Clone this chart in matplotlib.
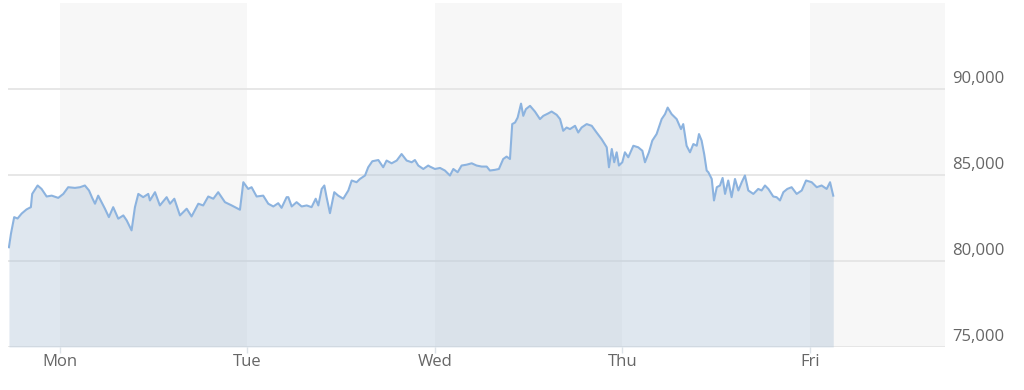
import matplotlib.pyplot as plt
from matplotlib.transforms import ScaledTranslation

# time in days since Monday 00:00, price
days = [
    -0.272, -0.261, -0.244, -0.226, -0.204, -0.178, -0.155, -0.148, -0.119, -0.098,
    -0.071, -0.044, -0.009, 0.018, 0.044, 0.080, 0.107, 0.133, 0.155, 0.172,
    0.187, 0.204, 0.226, 0.240, 0.261, 0.284, 0.311, 0.338, 0.356, 0.382,
    0.400, 0.418, 0.444, 0.471, 0.480, 0.507, 0.533, 0.569, 0.587, 0.610,
    0.640, 0.676, 0.702, 0.738, 0.764, 0.791, 0.818, 0.844, 0.880, 0.916,
    0.960, 0.978, 1.004, 1.022, 1.049, 1.084, 1.111, 1.138, 1.164, 1.182,
    1.209, 1.218, 1.236, 1.262, 1.289, 1.316, 1.342, 1.364, 1.378, 1.396,
    1.410, 1.422, 1.440, 1.463, 1.484, 1.511, 1.538, 1.556, 1.582, 1.600,
    1.627, 1.644, 1.666, 1.698, 1.724, 1.742, 1.769, 1.796, 1.822, 1.849,
    1.876, 1.893, 1.911, 1.938, 1.964, 1.973, 2.000, 2.027, 2.053, 2.080,
    2.098, 2.121, 2.142, 2.169, 2.196, 2.222, 2.249, 2.276, 2.293, 2.320,
    2.341, 2.364, 2.382, 2.400, 2.412, 2.427, 2.441, 2.459, 2.471, 2.485,
    2.507, 2.533, 2.560, 2.578, 2.604, 2.622, 2.649, 2.667, 2.684, 2.702,
    2.720, 2.747, 2.764, 2.782, 2.809, 2.836, 2.862, 2.889, 2.916, 2.928,
    2.943, 2.956, 2.969, 2.981, 2.999, 3.013, 3.031, 3.058, 3.084, 3.106,
    3.120, 3.141, 3.159, 3.182, 3.209, 3.227, 3.241, 3.262, 3.289, 3.312,
    3.324, 3.342, 3.360, 3.378, 3.396, 3.408, 3.422, 3.436, 3.449, 3.458,
    3.476, 3.488, 3.503, 3.520, 3.534, 3.547, 3.564, 3.582, 3.600, 3.618,
    3.636, 3.653, 3.671, 3.698, 3.724, 3.742, 3.760, 3.778, 3.804, 3.822,
    3.840, 3.858, 3.879, 3.902, 3.929, 3.956, 3.979, 4.009, 4.036, 4.062,
    4.089, 4.107, 4.124,
]
prices = [
    80800, 81600, 82550, 82470, 82760, 83000, 83130, 83900, 84390, 84190,
    83750, 83800, 83670, 83900, 84290, 84250, 84290, 84390, 84100, 83670,
    83330, 83800, 83330, 83040, 82550, 83130, 82460, 82650, 82360, 81780,
    83130, 83900, 83710, 83900, 83520, 84000, 83230, 83710, 83330, 83620,
    82650, 83040, 82590, 83330, 83230, 83750, 83620, 84000, 83420, 83230,
    82980, 84580, 84190, 84290, 83750, 83800, 83330, 83170, 83360, 83090,
    83710, 83710, 83170, 83420, 83170, 83230, 83130, 83620, 83230, 84190,
    84390, 83710, 82780, 84000, 83800, 83620, 84100, 84680, 84580, 84770,
    84970, 85450, 85800, 85870, 85450, 85840, 85680, 85840, 86220, 85840,
    85740, 85870, 85550, 85350, 85550, 85490, 85350, 85410, 85260, 84970,
    85350, 85160, 85550, 85600, 85680, 85550, 85490, 85490, 85260, 85300,
    85350, 85930, 86070, 85930, 87960, 88050, 88340, 89150, 88440, 88830,
    89020, 88690, 88250, 88440, 88580, 88690, 88500, 88250, 87570, 87760,
    87670, 87860, 87470, 87760, 87960, 87860, 87470, 87080, 86610, 85450,
    86510, 85740, 86320, 85550, 85740, 86320, 86030, 86700, 86610, 86410,
    85740, 86320, 87000, 87380, 88250, 88540, 88920, 88540, 88250, 87670,
    87960, 86700, 86320, 86800, 86700, 87380, 87000, 86200, 85260, 85160,
    84770, 83520, 84290, 84390, 84830, 83900, 84680, 83710, 84770, 84100,
    84580, 84970, 84100, 83900, 84190, 84100, 84390, 84190, 83750, 83710,
    83520, 84000, 84190, 84290, 83900, 84100, 84680, 84580, 84290, 84390,
    84190, 84580, 83800,
]

day_ticks = [0, 1, 2, 3, 4]
day_labels = ["Mon", "Tue", "Wed", "Thu", "Fri"]
price_ticks = [75000, 80000, 85000, 90000]

plt.rcParams['font.family'] = ['Open Sans', 'DejaVu Sans']

fig = plt.figure(figsize=(10.24, 3.9), dpi=100)
ax = fig.add_axes([8 / 1024, 43 / 390, 937 / 1024, 344 / 390])

x_min, x_max = -0.277, 4.72
ax.set_xlim(x_min, x_max)
ax.set_ylim(75000, 95000)

# alternating day bands
for start in [0, 2, 4]:
    ax.axvspan(start, min(start + 1, x_max), color="#f7f7f7", lw=0, zorder=0)

for v in price_ticks:
    ax.axhline(v, color="#e3e3e3", lw=1.2, zorder=1)

ax.fill_between(days, prices, 75000, color="#b0c4d8", alpha=0.4, lw=0, zorder=2)
ax.plot(days, prices, color="#8cb3df", lw=1.5, zorder=3)

for s in ax.spines.values():
    s.set_visible(False)

ax.set_xticks(day_ticks)
ax.set_xticklabels(day_labels)
ax.tick_params(axis="x", length=4, width=1, color="#dde3e8", labelcolor="#666666",
               labelsize=12, pad=1)

ax.yaxis.tick_right()
ax.set_yticks(price_ticks)
ax.set_yticklabels([f"{v:,}" for v in price_ticks])
ax.tick_params(axis="y", length=0, labelcolor="#666666", labelsize=12, pad=5)
shift = ScaledTranslation(0, 1.5 / 72, fig.dpi_scale_trans)
for lbl in ax.get_yticklabels():
    lbl.set_va("bottom")
    lbl.set_transform(lbl.get_transform() + shift)

plt.savefig("out.png", dpi=100)
plt.close()
